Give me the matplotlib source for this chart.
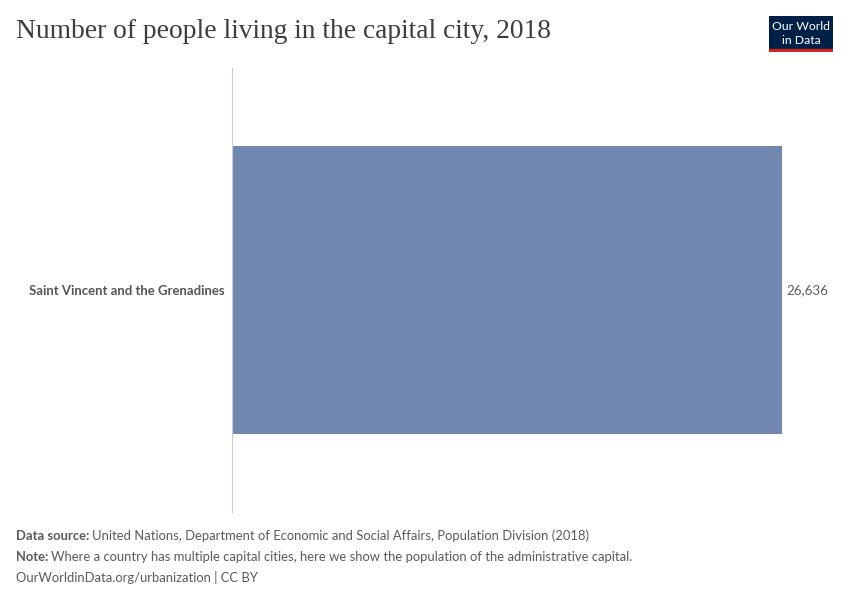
import matplotlib.pyplot as plt
from matplotlib.patches import Rectangle

plt.rcParams['font.family'] = ['Lato', 'DejaVu Sans']

# data
countries = ['Saint Vincent and the Grenadines']
population = [26636]
value_labels = ['26,636']

W, H = 850, 600
fig = plt.figure(figsize=(8.5, 6), dpi=100)
fig.patch.set_facecolor('white')

ax = fig.add_axes([232/W, 88/H, 550/W, 444/H])
ax.barh(range(len(countries)), population, height=0.649, color='#7088b0')
ax.set_xlim(0, population[0])
ax.set_ylim(-0.5, 0.5)
for s in ['top', 'right', 'bottom']:
    ax.spines[s].set_visible(False)
ax.spines['left'].set_color('#cccccc')
ax.set_xticks([])
ax.set_yticks(range(len(countries)))
ax.set_yticklabels(countries, fontsize=9.45, fontweight='bold', color='#555555')
ax.tick_params(axis='y', length=0, pad=5)
for i, v in enumerate(population):
    ax.text(v + population[0]*0.008, i, value_labels[i], va='center', ha='left',
            fontsize=9.6, color='#5b5b5b', clip_on=False)

# title
fig.text(16/W, 1 - 32/H, 'Number of people living in the capital city, 2018',
         fontsize=19.8, color='#3d3d3d', family=['Liberation Serif', 'DejaVu Serif'],
         va='center', ha='left')

# logo
logo = fig.add_axes([769/W, 1 - 52/H, 64/W, 36/H])
logo.set_xlim(0, 1)
logo.set_ylim(0, 1)
logo.axis('off')
logo.add_patch(Rectangle((0, 0.08), 1, 0.92, color='#002147'))
logo.add_patch(Rectangle((0, 0), 1, 0.08, color='#ce261e'))
logo.text(0.5, 0.7, 'Our World', color='white', fontsize=8.8, ha='center', va='center')
logo.text(0.5, 0.33, 'in Data', color='white', fontsize=8.8, ha='center', va='center')

# footer
fs = 9.4
grey = '#5b5b5b'
r = fig.canvas.get_renderer()
rows = [('Data source:', 'United Nations, Department of Economic and Social Affairs, Population Division (2018)', 536),
        ('Note:', 'Where a country has multiple capital cities, here we show the population of the administrative capital.', 557)]
for bold, rest, y in rows:
    t = fig.text(16/W, 1 - y/H, bold, fontsize=fs, color=grey, va='center', fontweight='bold')
    w = t.get_window_extent(r).width
    fig.text((16 + w + 3)/W, 1 - y/H, rest, fontsize=fs, color=grey, va='center')
fig.text(16/W, 1 - 578/H, 'OurWorldinData.org/urbanization | CC BY',
         fontsize=fs, color=grey, va='center')

fig.savefig('out.png', dpi=100)
